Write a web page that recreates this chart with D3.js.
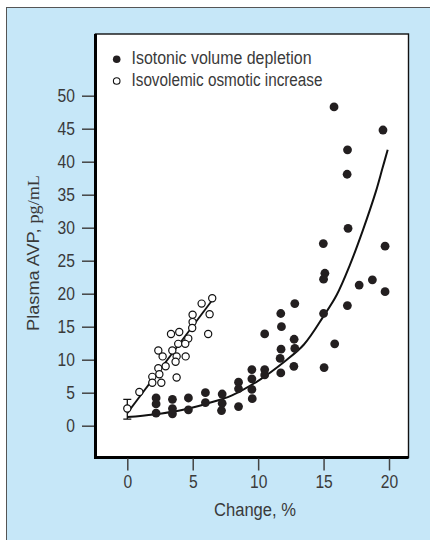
<!DOCTYPE html>
<html>
<head>
<meta charset="utf-8">
<script src="https://cdn.jsdelivr.net/npm/d3@7"></script>
<style>
  body { margin: 0; background: #fff; }
  .tick text { font-family: "Liberation Sans", Arial, sans-serif; font-size: 18px; fill: #3a3a3a; }
  .tick line { stroke: #444; stroke-width: 1.5; }
  .lbl { font-family: "Liberation Sans", Arial, sans-serif; fill: #3a3a3a; }
</style>
</head>
<body>
<script>
// isotonic volume depletion (filled dots)
var depX = [2.2, 2.2, 2.2, 3.45, 3.45, 3.45, 4.67, 4.67, 5.97, 5.97, 7.25, 7.25, 7.2,
            8.5, 8.5, 8.5, 9.52, 9.52, 9.52, 9.55, 10.5, 10.5, 10.5,
            11.73, 11.78, 11.75, 11.68, 11.73, 12.8, 12.75, 12.8, 12.73,
            14.98, 15.1, 15.0, 15.0, 15.04, 15.8, 15.85,
            16.83, 16.8, 16.87, 16.82, 17.72, 18.73, 19.54, 19.7, 19.7];
var depY = [4.2, 3.3, 1.9, 4.0, 2.6, 1.8, 4.2, 2.4, 5.0, 3.5, 4.8, 3.4, 2.3,
            6.6, 5.6, 2.9, 8.5, 7.1, 5.5, 4.1, 13.9, 8.5, 7.7,
            17.0, 15.0, 11.6, 10.2, 8.0, 18.5, 13.1, 11.7, 9.0,
            27.6, 23.1, 22.2, 17.0, 8.8, 48.3, 12.4,
            41.8, 38.1, 29.9, 18.2, 21.3, 22.1, 44.8, 27.2, 20.3];

// isovolemic osmotic increase (open dots)
var osmX = [6.49, 5.68, 4.99, 6.29, 4.99, 4.96, 6.18, 3.34, 3.97, 4.66, 3.89, 4.43, 2.37, 3.44,
            2.7, 3.77, 4.46, 3.69, 2.93, 2.37, 2.45, 1.91, 3.77, 1.91, 2.6, 0.92, 0];
var osmY = [19.3, 18.5, 16.8, 16.9, 15.7, 14.8, 13.9, 13.9, 14.2, 13.2, 12.4, 12.4, 11.4, 11.4,
            10.5, 10.5, 10.5, 9.7, 9.0, 8.7, 7.8, 7.4, 7.3, 6.5, 6.5, 5.1, 2.6];

// fitted curves
var depFitX = [0, 2, 4, 6, 8, 10, 12, 13.5, 15, 16, 17, 18, 19, 19.5, 19.9];
var depFitY = [1.3, 1.7, 2.3, 3.3, 4.6, 6.8, 9.7, 12.3, 16.6, 19.8, 24.3, 29.6, 35.5, 39.0, 41.8];
var osmFitX = [0, 6.6];
var osmFitY = [1.9, 19.3];

// error bar at baseline
var errX = 0, errLow = 1.0, errHigh = 4.0;

var xTicks = [0, 5, 10, 15, 20];
var yTicks = [0, 5, 10, 15, 20, 25, 30, 35, 40, 45, 50];
var legendLabels = ["Isotonic volume depletion", "Isovolemic osmotic increase"];

var width = 430, height = 540;
var frame = {left: 95.5, right: 408.5, top: 34, bottom: 457.5};

var svg = d3.select("body").append("svg")
  .attr("width", width)
  .attr("height", height);

// light blue panel
svg.append("rect")
  .attr("x", 6.5).attr("y", 7.5)
  .attr("width", 440).attr("height", 550)
  .attr("fill", "#c6e7f8")
  .attr("stroke", "#555")
  .attr("stroke-width", 1);

var xScale = d3.scaleLinear().domain([0, 20]).range([127.3, 389]);
var yScale = d3.scaleLinear().domain([0, 50]).range([425.7, 95.7]);

// plot box: thin top/right, heavy left/bottom
svg.append("rect")
  .attr("x", frame.left).attr("y", frame.top)
  .attr("width", frame.right - frame.left)
  .attr("height", frame.bottom - frame.top)
  .attr("fill", "#fff")
  .attr("stroke", "#111")
  .attr("stroke-width", 1.4);
svg.append("path")
  .attr("d", "M" + frame.left + "," + frame.top + "V" + frame.bottom + "H" + frame.right)
  .attr("fill", "none")
  .attr("stroke", "#000")
  .attr("stroke-width", 3);

// axes
var yAxis = d3.axisLeft(yScale).tickValues(yTicks).tickSize(12).tickPadding(7);
var xAxis = d3.axisBottom(xScale).tickValues(xTicks).tickSize(12).tickPadding(5);

// squeeze tick labels to the condensed face of the original
function narrowTicks(g) {
  g.select(".domain").remove();
  g.selectAll(".tick text")
    .attr("textLength", function(d) { return String(d).length * 8.7; })
    .attr("lengthAdjust", "spacingAndGlyphs");
}

svg.append("g")
  .attr("transform", "translate(" + (frame.left - 1.5) + ",0)")
  .call(yAxis)
  .call(narrowTicks);

svg.append("g")
  .attr("transform", "translate(0," + (frame.bottom + 1) + ")")
  .call(xAxis)
  .call(narrowTicks);

// axis labels
var yLab = svg.append("text")
  .attr("class", "lbl")
  .attr("transform", "translate(38.5,253) rotate(-90)")
  .attr("text-anchor", "middle")
  .attr("textLength", 156)
  .attr("lengthAdjust", "spacingAndGlyphs")
  .style("font-size", "17px");
yLab.append("tspan").text("Plasma AVP, ");
yLab.append("tspan").style("font-family", "'Liberation Serif', serif").text("pg/mL");

svg.append("text")
  .attr("class", "lbl")
  .attr("x", 255).attr("y", 516)
  .attr("text-anchor", "middle")
  .attr("textLength", 82)
  .attr("lengthAdjust", "spacingAndGlyphs")
  .style("font-size", "18px")
  .text("Change, %");

// fit lines
var line = d3.line()
  .x(function(d) { return xScale(d[0]); })
  .y(function(d) { return yScale(d[1]); })
  .curve(d3.curveCatmullRom.alpha(0.5));

svg.append("path")
  .datum(d3.zip(depFitX, depFitY))
  .attr("d", line)
  .attr("fill", "none")
  .attr("stroke", "#111")
  .attr("stroke-width", 2);

svg.append("path")
  .datum(d3.zip(osmFitX, osmFitY))
  .attr("d", line)
  .attr("fill", "none")
  .attr("stroke", "#111")
  .attr("stroke-width", 1.8);

// error bar
var ex = xScale(errX);
svg.append("path")
  .attr("d", "M" + ex + "," + yScale(errLow) + "V" + yScale(errHigh) +
             "M" + (ex - 4) + "," + yScale(errHigh) + "H" + (ex + 4) +
             "M" + (ex - 4) + "," + yScale(errLow) + "H" + (ex + 4))
  .attr("fill", "none")
  .attr("stroke", "#111")
  .attr("stroke-width", 1.3);

// dots
svg.append("g").selectAll("circle")
  .data(d3.zip(depX, depY))
  .enter().append("circle")
  .attr("cx", function(d) { return xScale(d[0]); })
  .attr("cy", function(d) { return yScale(d[1]); })
  .attr("r", 4.4)
  .attr("fill", "#231f20");

svg.append("g").selectAll("circle")
  .data(d3.zip(osmX, osmY))
  .enter().append("circle")
  .attr("cx", function(d) { return xScale(d[0]); })
  .attr("cy", function(d) { return yScale(d[1]); })
  .attr("r", 3.6)
  .attr("fill", "#fff")
  .attr("stroke", "#111")
  .attr("stroke-width", 1.2);

// legend
var legendWidths = [180, 191];
var legend = svg.append("g");
legendLabels.forEach(function(name, i) {
  var cy = 59.3 + i * 21.7;
  legend.append("circle")
    .attr("cx", 116.7).attr("cy", cy)
    .attr("r", i == 0 ? 3.8 : 3.3)
    .attr("fill", i == 0 ? "#231f20" : "#fff")
    .attr("stroke", "#111")
    .attr("stroke-width", i == 0 ? 0 : 1.1);
  legend.append("text")
    .attr("class", "lbl")
    .attr("x", 131.5).attr("y", cy + 4.5 + i * 0.6)
    .attr("textLength", legendWidths[i])
    .attr("lengthAdjust", "spacingAndGlyphs")
    .style("font-size", "18px")
    .text(name);
});
</script>
</body>
</html>
